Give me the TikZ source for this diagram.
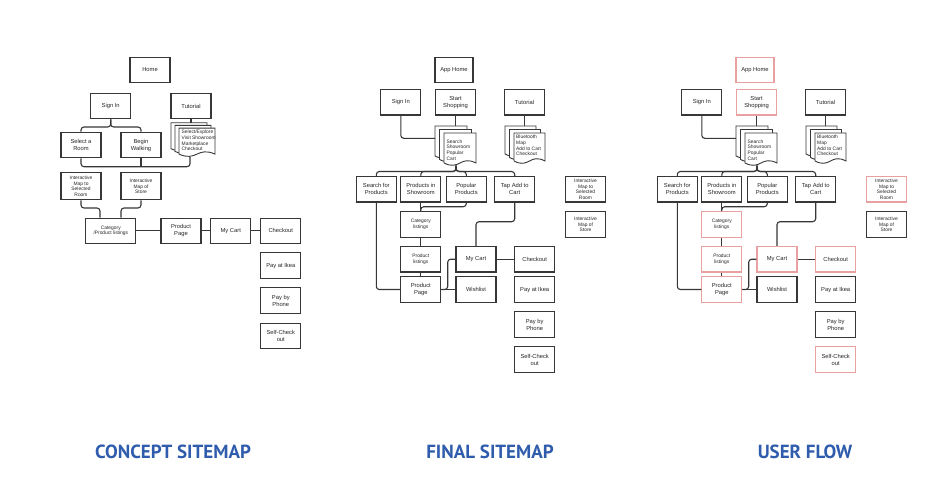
\documentclass[tikz,border=0pt]{standalone}
\usepackage{fontspec}
\setmainfont{Liberation Sans}
\newfontfamily\titlefont{PT Sans}
\definecolor{edge}{RGB}{55,55,55}
\definecolor{pinkc}{RGB}{232,160,160}
\definecolor{titleblue}{RGB}{47,92,172}
\tikzset{
 box/.style={draw=edge, line width=1.1pt, fill=white, minimum width=40pt, minimum height=25.5pt,
   inner sep=0.5pt, align=center, font=\fontsize{5.8}{7}\selectfont, text=black!85},
 small/.style={font=\fontsize{4.9}{5.5}\selectfont},
 conn/.style={draw=edge, line width=1.1pt, rounded corners=3pt},
 page/.style={draw=edge, line width=0.9pt, fill=white},
 doctext/.style={anchor=north west, inner sep=0pt, align=left, font=\fontsize{4.9}{5.7}\selectfont, text=black!85},
 title/.style={font=\titlefont\bfseries\fontsize{19}{22}\selectfont, text=titleblue},
 hl/.style={}
}
% one page of a document stack: x, y (top left), width, side height
\newcommand\docpage[4]{%
 \draw[page] ({#1},{#2}) -- ++(#3,0) -- ++(0,#4)
   .. controls +({-0.5*#3},-8) and +({0.5*#3},8) .. ({#1},{#2+#4}) -- cycle;}
\newcommand\docstack[6]{% x y w h dx dy
 \docpage{#1}{#2}{#3}{#4}
 \docpage{#1+#5}{#2+#6}{#3}{#4}
 \docpage{#1+2*#5}{#2+2*#6}{#3}{#4}}
\newcommand\flowdiagram[1]{%
 \node[box,hl,minimum width=38pt] (#1home) at (454,70) {App Home};
 \node[box] (#1signin) at (400.8,102.2) {Sign In};
 \node[box,hl] (#1start) at (455.5,102.2) {Start\\Shopping};
 \node[box] (#1tutorial) at (524.5,102.2) {Tutorial};
 \docstack{435}{126}{32}{30}{4.5}{3.5}
 \node[doctext] at (446.5,139.5) {Search\\Showroom\\Popular\\Cart};
 \docstack{505}{126}{31}{28}{4.5}{3.5}
 \node[doctext] at (516,135) {Bluetooth\\Map\\Add to Cart\\Checkout};
 \node[box] (#1search) at (376.3,189.2) {Search for\\Products};
 \node[box] (#1showroom) at (420.8,189.2) {Products in\\Showroom};
 \node[box] (#1popular) at (466.3,189.2) {Popular\\Products};
 \node[box] (#1tap) at (514.7,189.2) {Tap Add to\\Cart};
 \node[box,hl,small] (#1imapa) at (585.5,189.2) {Interactive\\Map to\\Selected\\Room};
 \node[box,small] (#1imapb) at (585.5,224.5) {Interactive\\Map of\\Store};
 \node[box,hl,small] (#1category) at (420.8,224.5) {Category\\listings};
 \node[box,hl,small] (#1plist) at (420.8,259.2) {Product\\listings};
 \node[box,hl] (#1ppage) at (420.8,289.5) {Product\\Page};
 \node[box,hl] (#1cart) at (476,259.2) {My Cart};
 \node[box] (#1wish) at (476,289.5) {Wishlist};
 \node[box,hl] (#1checkout) at (534.7,259.2) {Checkout};
 \node[box] (#1payikea) at (534.7,289.5) {Pay at Ikea};
 \node[box] (#1payphone) at (534.7,324.5) {Pay by\\Phone};
 \node[box,hl] (#1selfcheck) at (534.7,359.5) {Self-Check\\out};
 \coordinate (#1docL) at (435,138.3);
 \coordinate (#1docT) at (455.5,126);
 \coordinate (#1tutT) at (524.5,126);
 \coordinate (#1docB) at (456,165.5);
 \coordinate (#1bar) at (456,171.5);
 \coordinate (#1catj) at (420.8,206.7);
 \coordinate (#1tapj) at (476,221.7);
 \coordinate (#1ppj) at (447.7,289.5);
 \draw[conn] (#1signin.south) |- (#1docL);
 \draw[conn] (#1start.south) -- (#1docT);
 \draw[conn] (#1tutorial.south) -- (#1tutT);
 \foreach \n in {search,showroom,popular,tap}{\draw[conn] (#1\n.north) |- (#1bar) -- (#1docB);}
 \draw[conn] (#1showroom.south) -- (#1category.north);
 \draw[conn] (#1popular.south) |- (#1catj) -- (#1category.north);
 \draw[conn] (#1category) -- (#1plist);
 \draw[conn] (#1plist) -- (#1ppage);
 \draw[conn] (#1search.south) |- (#1ppage.west);
 \draw[conn] (#1tap.south) |- (#1tapj) -- (#1cart.north);
 \draw[conn] (#1ppage.east) -- (#1wish.west);
 \draw[conn] (#1ppage.east) -- (#1ppj) |- (#1cart.west);
 \draw[conn] (#1cart) -- (#1checkout);
}
\begin{document}
\begin{tikzpicture}[x=1pt,y=-1pt]
\fill[white] (0,0) rectangle (937,499);
\useasboundingbox (0,0) rectangle (937,499);
% ---------------- concept sitemap ----------------
\node[box] (home) at (150,70) {Home};
\node[box] (signin) at (110.7,106) {Sign In};
\node[box] (tutorial) at (191,106) {Tutorial};
\node[box] (select) at (81,145) {Select a\\Room};
\node[box] (begin) at (141,145) {Begin\\Walking};
\docstack{171}{122.7}{36}{26}{4}{2.7}
\node[doctext] at (181.5,130) {Select/Explore\\Visit Showroom\\Marketplace\\Checkout};
\node[box,small,minimum height=27pt] (imapa) at (81,186.3) {Interactive\\Map to\\Selected\\Room};
\node[box,small,minimum height=27pt] (imapb) at (141,186.3) {Interactive\\Map of\\Store};
\node[box,small,minimum width=50pt] (category) at (110.8,230.8) {Category\\/Product listings};
\node[box] (ppage) at (181,230.8) {Product\\Page};
\node[box] (cart) at (230.8,230.8) {My Cart};
\node[box] (checkout) at (280.8,230.8) {Checkout};
\node[box] (payikea) at (280.8,265.5) {Pay at Ikea};
\node[box] (payphone) at (280.8,300.5) {Pay by\\Phone};
\node[box] (selfcheck) at (280.8,335.8) {Self-Check\\out};
\coordinate (cbr) at (110.7,127);
\coordinate (cline) at (190,166.7);
\coordinate (cdocB) at (190,157);
\coordinate (cdocT) at (191,122.7);
\coordinate (cja) at (100,208);
\coordinate (cjb) at (121,208);
\draw[conn] (select.north) |- (cbr) -- (signin.south);
\draw[conn] (begin.north) |- (cbr) -- (signin.south);
\draw[conn] (select.south) |- (cline) -- (cdocB);
\draw[conn] (begin.south) -- (begin.south |- cline);
\draw[conn] (tutorial.south) -- (cdocT);
\draw[conn] (imapa.south) |- (cja) -- (cja |- category.north);
\draw[conn] (imapb.south) |- (cjb) -- (cjb |- category.north);
\draw[conn] (category) -- (ppage);
\draw[conn] (ppage) -- (cart);
\draw[conn] (cart) -- (checkout);
% ---------------- final sitemap ----------------
\begin{scope}
\flowdiagram{f}
\end{scope}
% ---------------- user flow ----------------
\begin{scope}[xshift=301pt, hl/.style={draw=pinkc}]
\flowdiagram{u}
\end{scope}
% ---------------- titles ----------------
\node[title] at (173,452) {CONCEPT SITEMAP};
\node[title] at (490,452) {FINAL SITEMAP};
\node[title] at (805,452) {USER FLOW};
\end{tikzpicture}
\end{document}
